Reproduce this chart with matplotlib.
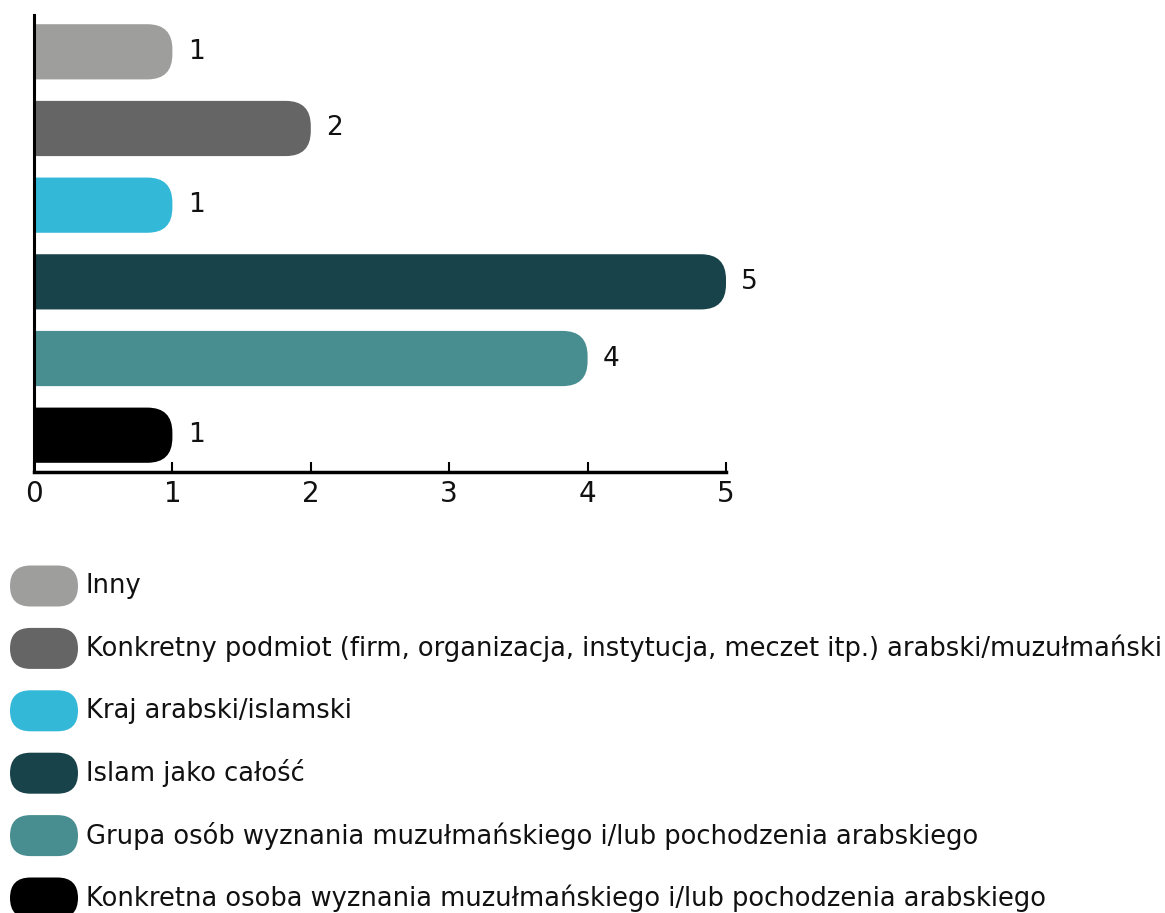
import matplotlib
matplotlib.use("Agg")
import matplotlib.pyplot as plt
from matplotlib.patches import FancyBboxPatch

# data
categories = [
    "Inny",
    "Konkretny podmiot (firm, organizacja, instytucja, meczet itp.) arabski/muzułmański",
    "Kraj arabski/islamski",
    "Islam jako całość",
    "Grupa osób wyznania muzułmańskiego i/lub pochodzenia arabskiego",
    "Konkretna osoba wyznania muzułmańskiego i/lub pochodzenia arabskiego",
]
values = [1, 2, 1, 5, 4, 1]
colors = ["#9e9e9d", "#656565", "#33b8d8", "#19434a", "#488d90", "#000000"]
xticks = [0, 1, 2, 3, 4, 5]

plt.rcParams["font.family"] = ["DejaVu Sans"]

W, H = 1165, 913
fig = plt.figure(figsize=(W / 100, H / 100), dpi=100)

# bar axes, placed in pixels
left, right, top, bottom = 34, 726, 15, 472
ax = fig.add_axes([left / W, 1 - bottom / H, (right - left) / W, (bottom - top) / H])
ax.set_xlim(0, 5)
ax.set_ylim(len(values) - 0.52, -0.48)

px_x = (right - left) / 5.0
px_y = (bottom - top) / (len(values) - 0.52 + 0.48)
rad_px = 25
rx = rad_px / px_x
aspect = px_x / px_y
bar_h = 0.72

for i, (v, c) in enumerate(zip(values, colors)):
    p = FancyBboxPatch((-rx, i - bar_h / 2), v + rx, bar_h,
                       boxstyle=f"round,pad=0,rounding_size={rx}",
                       mutation_aspect=aspect, fc=c, ec="none", clip_on=True)
    ax.add_patch(p)
    ax.annotate(str(v), (v, i), xytext=(11, 0), textcoords="offset points",
                va="center", ha="left", fontsize=19, color="#111111",
                annotation_clip=False)

for s in ["top", "right"]:
    ax.spines[s].set_visible(False)
ax.spines["left"].set_linewidth(2.2)
ax.spines["bottom"].set_linewidth(2.5)
ax.set_yticks([])
ax.set_xticks(xticks)
ax.set_xticklabels([str(t) for t in xticks])
ax.tick_params(axis="x", direction="in", length=7, width=1.5, pad=6,
               labelsize=20, labelcolor="#111111")

# legend drawn in pixel space
lg = fig.add_axes([0, 0, 1, 1])
lg.set_xlim(0, W)
lg.set_ylim(H, 0)
lg.axis("off")
y0, step = 586, 62.4
pw, ph = 68, 41
for i, (lab, c) in enumerate(zip(categories, colors)):
    yc = y0 + i * step
    lg.add_patch(FancyBboxPatch((10, yc - ph / 2), pw, ph,
                                boxstyle=f"round,pad=0,rounding_size={ph / 2}",
                                fc=c, ec="none", clip_on=False))
    lg.text(86, yc, lab, va="center", ha="left", fontsize=18.5, color="#111111")

fig.savefig("out.png", dpi=100)
